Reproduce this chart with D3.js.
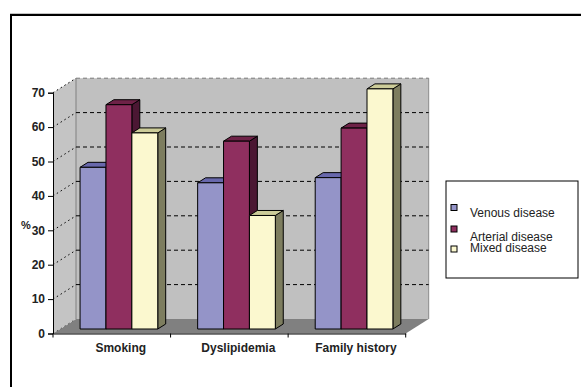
<!DOCTYPE html>
<html><head><meta charset="utf-8">
<script src="https://cdn.jsdelivr.net/npm/d3@7"></script>
<style>html,body{margin:0;padding:0;background:#fff;}svg{display:block;}</style>
</head><body>
<svg id="c" width="581" height="387"></svg>
<script>
const categories = ["Smoking", "Dyslipidemia", "Family history"];
const seriesNames = ["Venous disease", "Arterial disease", "Mixed disease"];
const venous = [47, 42.5, 44];
const arterial = [65.2, 54.6, 58.4];
const mixed = [57, 33, 69.8];
const yTicks = [0, 10, 20, 30, 40, 50, 60, 70];
const yTitle = "%";

const seriesValues = [venous, arterial, mixed];
const front = ["#9494c8", "#8f2f5f", "#fbf8cf"];
const topC = ["#6868ac", "#6e2247", "#cccc99"];
const side = ["#4f4f80", "#4b1733", "#7d7d5f"];

const svg = d3.select("#c");
const font = "Liberation Sans, Arial, sans-serif";

// outer frame
svg.append("line").attr("x1",10).attr("x2",581).attr("y1",14).attr("y2",14).attr("stroke","#888").attr("stroke-width",1);
svg.append("path").attr("d","M11,387 V15 H581").attr("fill","none").attr("stroke","#000").attr("stroke-width",2);

const x0 = 53, x1r = 405.7;
const DX = 23, DY = 14.5;
const y = d3.scaleLinear().domain([0,70]).range([333.5, 92.7]);
const x = d3.scaleBand().domain(categories).range([x0, x1r]).padding(0);
const xs = d3.scaleBand().domain(seriesNames).range([0, x.bandwidth()]).paddingInner(0).paddingOuter(0.77);

const line = d3.line();
// floor
svg.append("path").attr("d", line([[x0,y(0)],[x1r,y(0)],[x1r+DX,y(0)-DY],[x0+DX,y(0)-DY]])+"Z").attr("fill","#808080");
// left wall
svg.append("path").attr("d", line([[x0,y(0)],[x0+DX,y(0)-DY],[x0+DX,y(70)-DY],[x0,y(70)]])+"Z").attr("fill","#c4c4c4");
// back wall
svg.append("rect").attr("x",x0+DX).attr("y",y(70)-DY).attr("width",x1r-x0).attr("height",y(0)-y(70)).attr("fill","#c0c0c0");
svg.append("path").attr("d",`M${x0+DX},${y(0)-DY}V${y(70)-DY}`).attr("stroke","#808080").attr("fill","none");
svg.append("path").attr("d",`M${x1r+DX},${y(0)-DY}V${y(70)-DY}`).attr("stroke","#8a8a8a").attr("fill","none");

// gridlines
yTicks.filter(v=>v>0).forEach(v=>{
  svg.append("line").attr("x1",x0+DX).attr("x2",x1r+DX).attr("y1",y(v)-DY).attr("y2",y(v)-DY)
    .attr("stroke", v===70 ? "#7a7a7a" : "#000").attr("stroke-dasharray","4,3").attr("stroke-width",1);
  svg.append("line").attr("x1",x0).attr("x2",x0+DX).attr("y1",y(v)).attr("y2",y(v)-DY)
    .attr("stroke","#000").attr("stroke-dasharray","1.5,3").attr("stroke-width",1);
});
svg.append("line").attr("x1",x0).attr("x2",x0+DX).attr("y1",y(0)).attr("y2",y(0)-DY)
    .attr("stroke","#555").attr("stroke-dasharray","1.5,3");

// bars
const fDX = DX*4.5/DY, fDY = 4.5, bDX = DX*5/DY, bDY = 5;
categories.forEach((c,ci)=>{
  seriesNames.forEach((s,si)=>{
    const v = seriesValues[si][ci];
    const bx = x(c)+xs(s)+fDX, bw = xs.bandwidth();
    const by0 = y(0)-fDY, byt = y(v)-fDY;
    const g = svg.append("g").attr("stroke","#000").attr("stroke-width",1).attr("stroke-linejoin","round");
    g.append("path").attr("d", line([[bx+bw,by0],[bx+bw+bDX,by0-bDY],[bx+bw+bDX,byt-bDY],[bx+bw,byt]])+"Z").attr("fill",side[si]);
    g.append("path").attr("d", line([[bx,byt],[bx+bw,byt],[bx+bw+bDX,byt-bDY],[bx+bDX,byt-bDY]])+"Z").attr("fill",topC[si]);
    g.append("rect").attr("x",bx).attr("y",byt).attr("width",bw).attr("height",by0-byt).attr("fill",front[si]);
  });
});

// axes
const yAxis = svg.append("g").attr("transform",`translate(${x0},0)`)
  .call(d3.axisLeft(y).tickValues(yTicks).tickSize(5).tickPadding(3));
yAxis.select(".domain").attr("stroke","#000");
yAxis.selectAll("text").attr("font-family",font).attr("font-size",12).attr("font-weight","bold").attr("fill","#222");
const xAxis = svg.append("g").attr("transform",`translate(0,${y(0)})`)
  .call(d3.axisBottom(x).tickSize(0).tickFormat(""));
xAxis.select(".domain").attr("stroke","#000");
const bounds = categories.map(c=>x(c)).concat([x1r]);
bounds.forEach(b=>{
  svg.append("line").attr("x1",b).attr("x2",b).attr("y1",y(0)).attr("y2",y(0)+4).attr("stroke","#000");
});
categories.forEach(c=>{
  svg.append("text").attr("x",x(c)+x.bandwidth()/2+9).attr("y",352).attr("text-anchor","middle")
    .attr("font-family",font).attr("font-size",12).attr("font-weight","bold").attr("fill","#222").text(c);
});
svg.append("text").attr("x",26).attr("y",228.5).attr("text-anchor","middle")
  .attr("font-family",font).attr("font-size",11).attr("font-weight","bold").attr("fill","#222").text(yTitle);

// legend
svg.append("rect").attr("x",446).attr("y",181).attr("width",132).attr("height",97).attr("fill","#fff").attr("stroke","#000");
const legY = [204.5, 226, 246];
const legT = [216.5, 240.5, 251.5];
seriesNames.forEach((s,i)=>{
  svg.append("rect").attr("x",451).attr("y",legY[i]).attr("width",6).attr("height",6).attr("fill",front[i]).attr("stroke","#000");
  svg.append("text").attr("x",470).attr("y",legT[i]).attr("font-family",font).attr("font-size",12).attr("fill","#222").text(s);
});
</script>
</body></html>
